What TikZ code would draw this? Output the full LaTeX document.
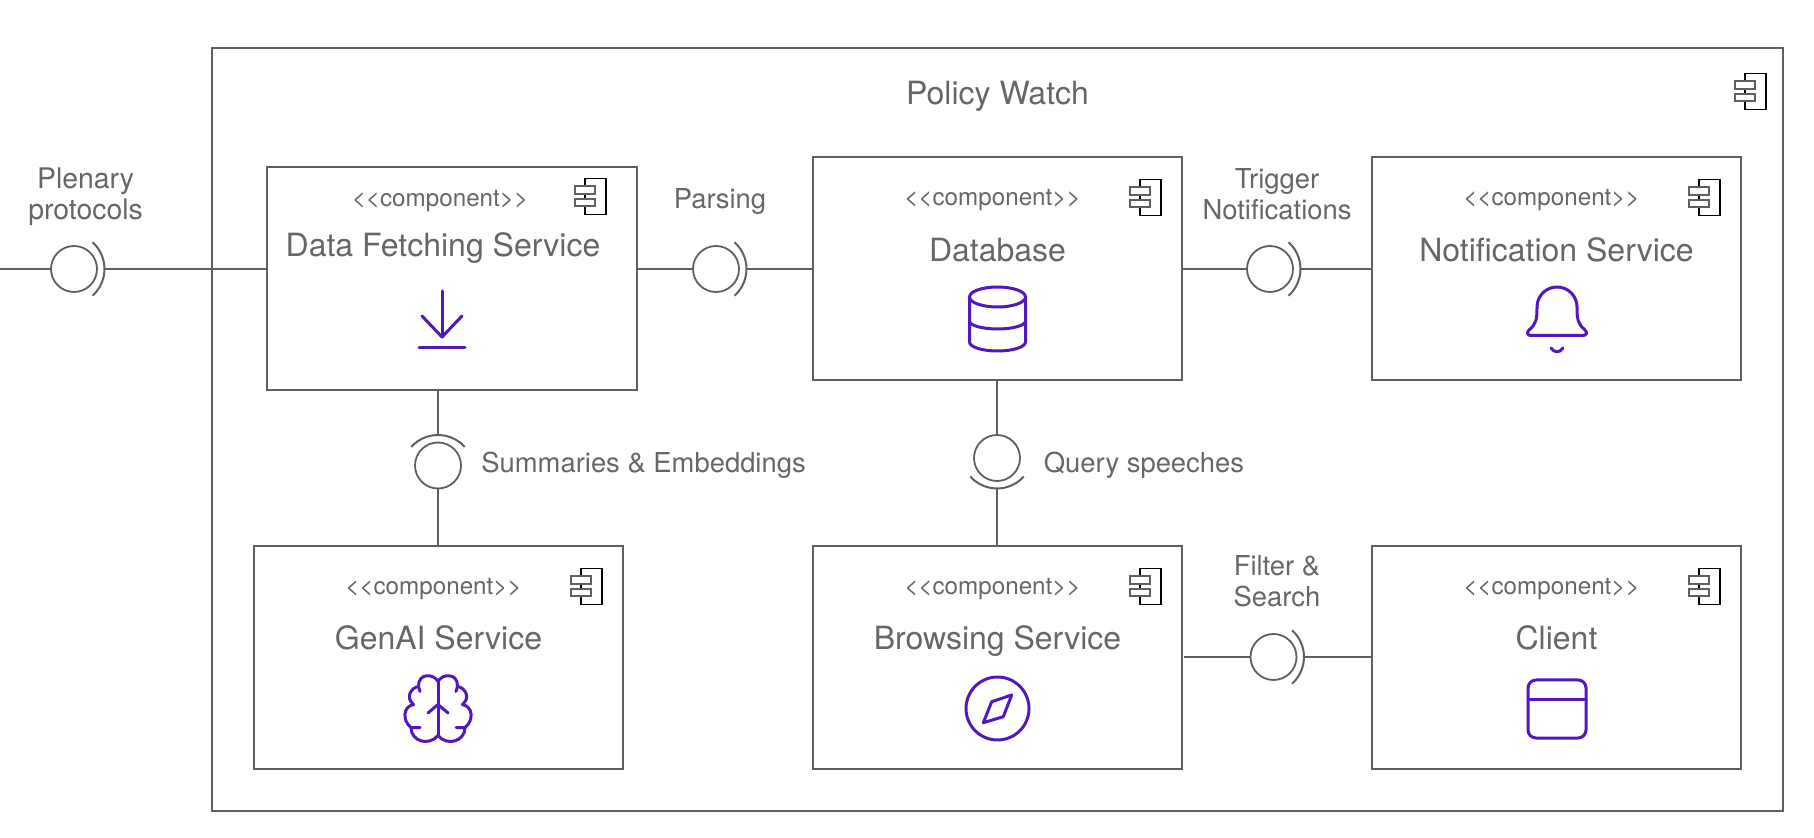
\documentclass[tikz,border=0pt]{standalone}
\usepackage{fontspec}
\setmainfont{TeX Gyre Heros}
\usepackage{xcolor}
\usepackage{tikz}
\usetikzlibrary{positioning,calc}

\definecolor{linegray}{HTML}{5F5F5F}
\definecolor{textgray}{HTML}{666666}
\definecolor{iconpurple}{HTML}{5218BE}

\tikzset{
    comp/.style={rectangle, draw=linegray, line width=1pt, outer sep=0pt, minimum width=184.5pt, minimum height=111.5pt},
    stereo/.style={inner sep=0pt, text=textgray, font=\fontsize{12.1}{14}\selectfont, text height=9pt, text depth=3pt},
    title/.style={inner sep=0pt, text=textgray, font=\fontsize{16}{19}\selectfont, text height=12pt, text depth=4pt},
    lbl/.style={inner sep=0pt, text=textgray, align=center, font=\fontsize{13.7}{15.5}\selectfont},
    iface/.style={circle, draw=linegray, line width=.9pt, outer sep=0pt, inner sep=0pt, minimum size=23pt},
    wire/.style={draw=linegray, line width=1pt},
    icon/.style={draw=iconpurple, line width=1.5pt, line cap=round, line join=round},
    compicon/.pic={
        \draw[black, line width=.8pt] (-21,0) rectangle (0,36);
        \draw[linegray, fill=white, line width=.9pt] (-31,7) rectangle (-11,15);
        \draw[linegray, fill=white, line width=.9pt] (-31,20) rectangle (-11,27);
    },
    downloadicon/.pic={
        \draw[icon] (0,-29) -- (0,17);
        \draw[icon] (-20,-4) -- (0,17) -- (20,-4);
        \draw[icon] (-23,28) -- (23,28);
    },
    dbicon/.pic={
        \draw[icon] (0,-21) ellipse [x radius=28, y radius=10];
        \draw[icon] (-28,-21) -- (-28,24) arc[start angle=180, end angle=0, x radius=28, y radius=9] -- (28,-21);
        \draw[icon] (-28,3) arc[start angle=180, end angle=0, x radius=28, y radius=8];
    },
    bellicon/.pic={
        \draw[icon] (-20,-13) arc[start angle=180, end angle=360, radius=20]
            .. controls (20,0) and (21,4) .. (28,10)
            .. controls (31,13) and (29,15.5) .. (26,15.5) -- (-26,15.5)
            .. controls (-29,15.5) and (-31,13) .. (-28,10)
            .. controls (-21,4) and (-20,0) .. cycle;
        \draw[icon] (-6,28) .. controls (-3,33) and (3,33) .. (6,28);
    },
    brainicon/.pic={
        \draw[icon] (0,-27) -- (0,27);
        \draw[icon] (-10,4.5) -- (0,-4) -- (10,4.5);
        \foreach \s in {1,-1} {
            \draw[icon, xscale=\s] (0,-27) .. controls (4,-35) and (20,-36) .. (19.5,-22) -- (18,-17);
            \draw[icon, xscale=\s] (19.5,-22) .. controls (27,-21) and (33,-11) .. (24.5,-4);
            \draw[icon, xscale=\s] (24.5,-4) .. controls (35,-2) and (36,12) .. (27,19) -- (18,19);
            \draw[icon, xscale=\s] (27,19) .. controls (27,33) and (9,38) .. (0,27);
        }
    },
    compassicon/.pic={
        \draw[icon] (0,0) circle [radius=31.5];
        \draw[icon] (-14.2,14.2) -- (-5.8,-6.8) -- (14.2,-13.5) -- (5.8,8.2) -- cycle;
    },
    windowicon/.pic={
        \draw[icon, rounded corners=4pt] (-29,-29) rectangle (29,29);
        \draw[icon] (-29,-10) -- (29,-10);
    },
}

% half ring on an interface, #2 is the side it opens towards
\newcommand{\socketarc}[2]{
    \draw[wire] ($(#1)+(#2:-5.5)+(#2-48:36)$) arc[start angle=#2-48, end angle=#2+48, radius=36];
    \coordinate (#1tip) at ($(#1)+(#2:30.5)$);
}

\begin{document}
\begin{tikzpicture}[x=0.5pt, y=-0.5pt]
    \useasboundingbox (0,0) rectangle (1814,838);

    \node (outer) [comp, minimum width=785.5pt, minimum height=381.5pt] at (997.5,429.2) {};
    \node (outername) [title, below=16pt of outer.north] {Policy Watch};
    \pic at ([xshift=-8.5pt,yshift=-13pt]outer.north east) {compicon};

    % components
    \node (db) [comp] at (997.5,268.2) {};
    \node (notify) [comp, right=95pt of db] {};
    \node (browse) [comp, below=83pt of db] {};
    \node (client) [comp, below=83pt of notify] {};
    \node (genai) [comp, left=95pt of browse] {};
    \node (fetch) [comp, minimum width=185pt, left=88pt of db, yshift=-5pt] {};

    \node (fetchtype) [stereo, below=10.7pt of fetch.north, xshift=-6pt] {<{}<component>{}>};
    \node (fetchname) [title, below=32.8pt of fetch.north, xshift=-4.5pt] {Data Fetching Service};
    \node (dbtype) [stereo, below=15.2pt of db.north, xshift=-2.5pt] {<{}<component>{}>};
    \node (dbname) [title, below=40pt of db.north] {Database};
    \node (notifytype) [stereo, below=15.2pt of notify.north, xshift=-2.5pt] {<{}<component>{}>};
    \node (notifyname) [title, below=40pt of notify.north] {Notification Service};
    \node (genaitype) [stereo, below=15.2pt of genai.north, xshift=-2.5pt] {<{}<component>{}>};
    \node (genainame) [title, below=39.5pt of genai.north] {GenAI Service};
    \node (browsetype) [stereo, below=15.2pt of browse.north, xshift=-2.5pt] {<{}<component>{}>};
    \node (browsename) [title, below=39.5pt of browse.north] {Browsing Service};
    \node (clienttype) [stereo, below=15.2pt of client.north, xshift=-2.5pt] {<{}<component>{}>};
    \node (clientname) [title, below=39.5pt of client.north] {Client};

    \pic at ([xshift=-15.5pt,yshift=-6pt]fetch.north east) {compicon};
    \pic at ([xshift=-10.5pt,yshift=-11.5pt]db.north east) {compicon};
    \pic at ([xshift=-10.5pt,yshift=-11.5pt]notify.north east) {compicon};
    \pic at ([xshift=-10.5pt,yshift=-11.5pt]genai.north east) {compicon};
    \pic at ([xshift=-10.5pt,yshift=-11.5pt]browse.north east) {compicon};
    \pic at ([xshift=-10.5pt,yshift=-11.5pt]client.north east) {compicon};

    \pic at (442,320) {downloadicon};
    \pic at (997.5,318) {dbicon};
    \pic at (1557,320) {bellicon};
    \pic at (438,708.5) {brainicon};
    \pic at (997.5,708.5) {compassicon};
    \pic at (1557,709) {windowicon};

    % interfaces
    \coordinate (ext) at (0,269);
    \node (plenary) [iface] at (74,269) {};
    \node (parsing) [iface] at (716,269) {};
    \node (trigger) [iface] at (1270,269) {};
    \node (filter) [iface] at (1273.5,657) {};
    \node (summaries) [iface] at (438,465.5) {};
    \node (query) [iface] at (997,458) {};
    \socketarc{plenary}{0}
    \socketarc{parsing}{0}
    \socketarc{trigger}{0}
    \socketarc{filter}{0}
    \socketarc{summaries}{270}
    \socketarc{query}{90}

    \node (plenarylbl) [lbl, font=\fontsize{14.2}{15.5}\selectfont] at (85.6,196.5) {Plenary\\protocols};
    \node (parsinglbl) [lbl] at (720,201.5) {Parsing};
    \node (triggerlbl) [lbl] at (1277,194) {Trigger\\Notifications};
    \node (filterlbl) [lbl] at (1277,581) {Filter \&\\Search};
    \node (summarieslbl) [lbl, anchor=west] at (481,465) {Summaries \& Embeddings};
    \node (querylbl) [lbl, anchor=west] at (1043.5,465) {Query speeches};

    % connectors
    \draw[wire] (ext) -- (plenary.west);
    \draw[wire] (plenarytip) -- (plenarytip -| fetch.west);
    \draw[wire] (parsing.west) -- (parsing.west -| fetch.east);
    \draw[wire] (parsingtip) -- (parsingtip -| db.west);
    \draw[wire] (trigger.west) -- (trigger.west -| db.east);
    \draw[wire] (triggertip) -- (triggertip -| notify.west);
    \draw[wire, shorten >=1pt] (filter.west) -- (filter.west -| browse.east);
    \draw[wire] (filtertip) -- (filtertip -| client.west);
    \draw[wire] (summariestip) -- (summariestip |- fetch.south);
    \draw[wire] (summaries.south) -- (summaries.south |- genai.north);
    \draw[wire] (query.north) -- (query.north |- db.south);
    \draw[wire] (querytip) -- (querytip |- browse.north);
\end{tikzpicture}
\end{document}
